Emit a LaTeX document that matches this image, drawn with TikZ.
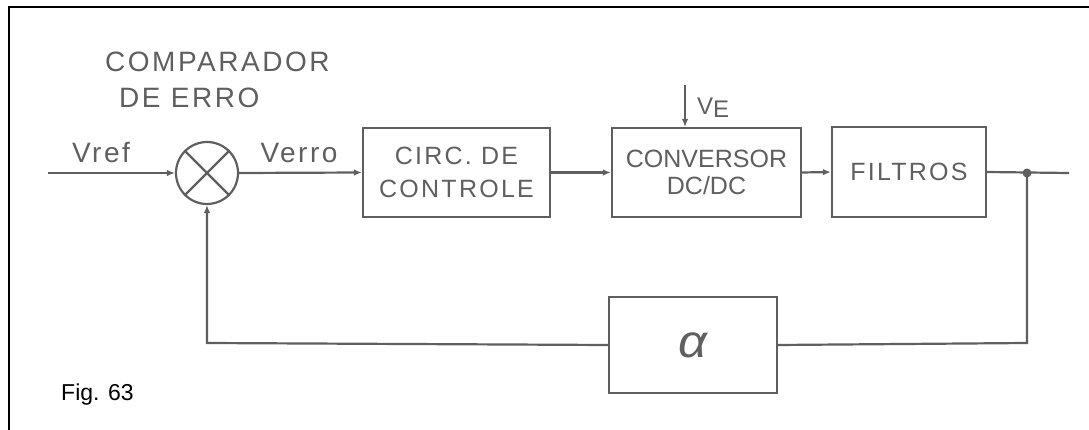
\documentclass[tikz,border=0pt]{standalone}
\usepackage{fontspec}
\setmainfont{Liberation Sans}
\newfontfamily\inkfont[LetterSpace=9]{Liberation Sans}
\newfontfamily\tightfont{Liberation Sans}
\usetikzlibrary{arrows.meta,positioning}
\definecolor{ink}{RGB}{95,95,95}

\begin{document}
\begin{tikzpicture}[
    x=1pt, y=-1pt,
    >={Latex[length=8pt,width=6.5pt]},
    font=\inkfont\fontsize{28}{33}\selectfont,
    blk/.style={
        draw=ink,
        text=ink,
        minimum width=187pt,
        minimum height=89pt,
        align=center,
        inner sep=0pt,
        line width=2.2pt,
        font=\inkfont\fontsize{25}{33}\selectfont
    },
    sumnode/.style={draw=ink, circle, minimum size=62pt, inner sep=0pt, line width=2.2pt},
    lbl/.style={text=ink, inner sep=0pt},
    wire/.style={draw=ink, line width=2.2pt},
    link/.style={wire, ->}
]
\useasboundingbox (0,0) rectangle (1089,430);
\clip (0,0) rectangle (1089,430);

% moldura
\draw[black, line width=2pt] (9,7) rectangle (1100,440);

% blocos
\node[sumnode] (comp) at (207,173) {};
\draw[wire] (comp.north west) -- (comp.south east);
\draw[wire] (comp.north east) -- (comp.south west);
\node[blk] (circ)  at (456.5,172.5) {CIRC.\ DE\\CONTROLE};
\node[blk, minimum width=189pt, font=\tightfont\fontsize{25}{27}\selectfont] (conv) at (706.5,172.5)
    {CONVERSOR\\DC/DC};
\node[blk, minimum width=154pt, minimum height=90pt] (filt) at (909,172) {FILTROS};
\node[blk, minimum width=168pt, minimum height=96pt,
      font=\tightfont\itshape\fontsize{46}{46}\selectfont] (gain) at (693,345)
    {\raisebox{-2pt}{\scalebox{1.1}[1]{α}}};

% pontos livres
\coordinate (vin)  at (48,173);
\coordinate (vout) at (1069,173);
\coordinate (node) at (1027,173);
\coordinate (vtop) at (685,85);
\coordinate (fbr)  at (1027,343);
\coordinate (fbl)  at (207,343);

% ligacoes
\draw[link] (vin) -- (comp.west);
\draw[link] (comp.east) -- (circ.west);
\draw[link] (circ.east) -- (conv.west);
\draw[link] (conv.east) -- (filt.west);
\draw[wire] (filt.east) -- (vout);
\fill[ink] (node) circle (4.5pt);
\draw[link] (vtop) -- (vtop |- conv.north);
\draw[wire] (node) -- (fbr) -- (gain.east);
\draw[link] (gain.west) -- (fbl) -- (comp.south);

% rotulos
\node[lbl, anchor=base west] (cmpa) at (105,72) {COMPARADOR};
\node[lbl, anchor=base west] (cmpb) at (119,108) {DE\ ERRO};
\node[lbl, anchor=base] (vref) at (101,163) {Vref};
\node[lbl, anchor=base] (verr) at (299,163) {Verro};
\node[lbl, anchor=base west, font=\inkfont\fontsize{24}{26}\selectfont] (ve) at (697,115)
    {V\raisebox{-3pt}{E}};
\node[black, inner sep=0pt, anchor=base west, font=\tightfont\fontsize{23}{26}\selectfont] (fig) at (61,400) {Fig. 63};

\end{tikzpicture}
\end{document}
